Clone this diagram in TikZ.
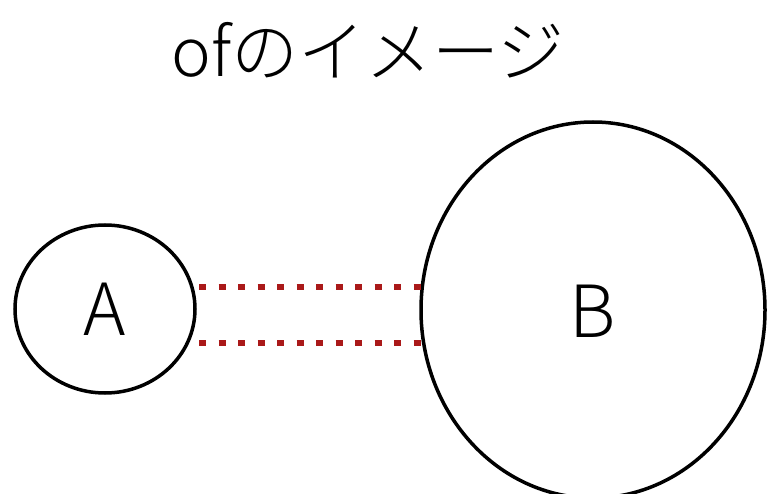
\documentclass[tikz,border=0pt]{standalone}
\usepackage{fontspec}
\newfontfamily\jpfont{Noto Sans CJK JP}[UprightFont={* Light}]
\definecolor{dotred}{RGB}{170,25,25}
\tikzset{
  ring/.style={draw=black, line width=3.5pt, ellipse, inner sep=0pt},
  reddots/.style={draw=dotred, line width=6pt, dash pattern=on 7pt off 12.5pt},
  lbl/.style={font=\jpfont\fontsize{72}{72}\selectfont}
}
\usetikzlibrary{shapes.geometric}
\begin{document}
\begin{tikzpicture}[x=1pt,y=-1pt]
\useasboundingbox (0,0) rectangle (767,494);
\node[font=\jpfont\fontsize{67}{67}\selectfont] (title) at (368,50) {ofのイメージ};
\node[ring, minimum width=180pt, minimum height=168pt] (A) at (105,309) {};
\node[ring, minimum width=344pt, minimum height=376pt] (B) at (593,310) {};
\node[lbl] (Atext) at (A.center) {A};
\node[lbl] (Btext) at (593,311) {B};
\coordinate (a1) at (199,287);
\coordinate (b1) at (424,287);
\coordinate (a2) at (199,343);
\coordinate (b2) at (424,343);
\draw[reddots] (a1) -- (b1);
\draw[reddots] (a2) -- (b2);
\end{tikzpicture}
\end{document}
